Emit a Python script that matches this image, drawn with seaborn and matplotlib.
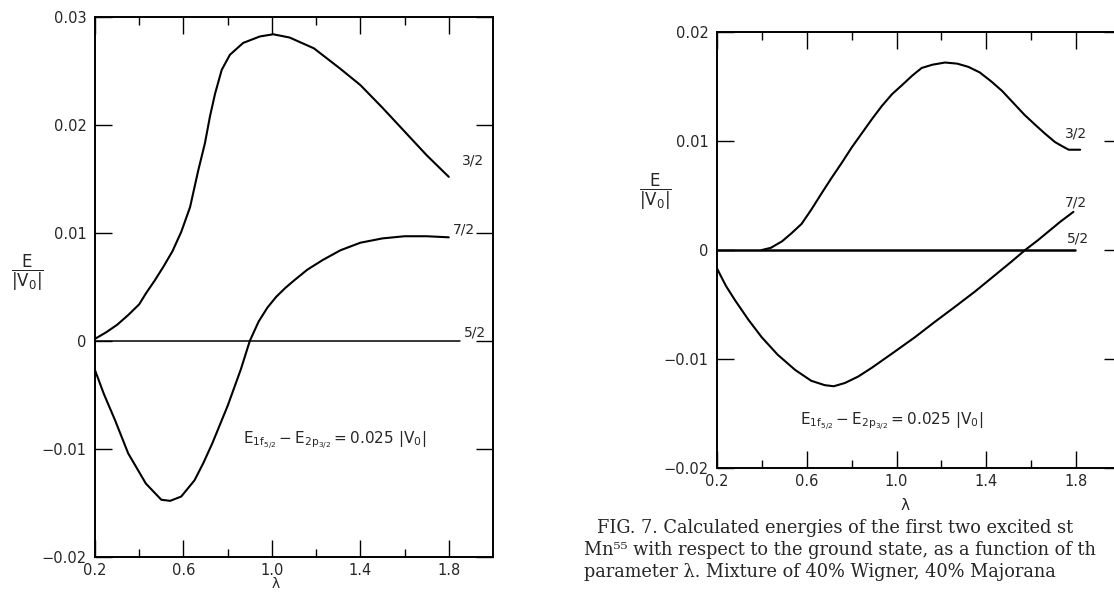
#%%
import numpy as np
import pandas as pd
import seaborn as sns
import matplotlib.pyplot as plt

sns.set_theme(style="ticks")
plt.rcParams["font.family"] = ["DejaVu Sans"]
plt.rcParams["mathtext.fontset"] = "dejavusans"

# %% values (lambda, E/|V0|)
# left panel
lam_l32 = [0.20, 0.25, 0.30, 0.35, 0.40, 0.43, 0.47, 0.51, 0.55, 0.59, 0.63, 0.667,
           0.697, 0.72, 0.743, 0.773, 0.81, 0.87, 0.946, 1.006, 1.08, 1.19, 1.31,
           1.40, 1.50, 1.60, 1.70, 1.80]
e_l32 = [0.0002, 0.0008, 0.0015, 0.0024, 0.0034, 0.0044, 0.0056, 0.0069, 0.0083,
         0.0101, 0.0124, 0.0158, 0.0183, 0.0208, 0.0229, 0.0251, 0.0265, 0.0276,
         0.0282, 0.0284, 0.0281, 0.0271, 0.0252, 0.0237, 0.0216, 0.0194, 0.0172,
         0.0152]
lam_l72 = [0.20, 0.24, 0.29, 0.35, 0.43, 0.50, 0.54, 0.59, 0.65, 0.69, 0.73, 0.80,
           0.86, 0.90, 0.94, 0.98, 1.02, 1.06, 1.10, 1.16, 1.23, 1.31, 1.40, 1.50,
           1.60, 1.70, 1.80]
e_l72 = [-0.0027, -0.0049, -0.0073, -0.0104, -0.0132, -0.0147, -0.0148, -0.0144,
         -0.0129, -0.0113, -0.0095, -0.0060, -0.0026, 0.0000, 0.0018, 0.0031,
         0.0041, 0.0049, 0.0056, 0.0066, 0.0075, 0.0084, 0.0091, 0.0095, 0.0097,
         0.0097, 0.0096]
lam_l52 = [0.20, 1.85]
e_l52 = [0.0, 0.0]

# right panel
lam_r32 = [0.40, 0.44, 0.49, 0.53, 0.577, 0.62, 0.666, 0.71, 0.756, 0.80, 0.845,
           0.89, 0.934, 0.98, 1.023, 1.07, 1.112, 1.16, 1.216, 1.27, 1.32, 1.37,
           1.42, 1.47, 1.52, 1.57, 1.617, 1.66, 1.706, 1.74, 1.767, 1.818]
e_r32 = [0.0000, 0.0002, 0.0008, 0.0015, 0.0024, 0.0037, 0.0052, 0.0066, 0.0080,
         0.0094, 0.0107, 0.0120, 0.0132, 0.0143, 0.0151, 0.0160, 0.0167, 0.0170,
         0.0172, 0.0171, 0.0168, 0.0163, 0.0155, 0.0146, 0.0135, 0.0124, 0.0115,
         0.0107, 0.0099, 0.0095, 0.0092, 0.0092]
lam_r72 = [0.20, 0.24, 0.28, 0.34, 0.399, 0.47, 0.548, 0.62, 0.68, 0.72, 0.77, 0.83,
           0.89, 0.98, 1.082, 1.17, 1.261, 1.35, 1.439, 1.51, 1.573, 1.63, 1.677,
           1.73, 1.788]
e_r72 = [-0.0017, -0.0033, -0.0046, -0.0064, -0.0080, -0.0096, -0.0110, -0.0120,
         -0.0124, -0.0125, -0.0122, -0.0116, -0.0108, -0.0095, -0.0080, -0.0066,
         -0.0052, -0.0038, -0.0023, -0.0011, 0.0000, 0.0009, 0.0017, 0.0026, 0.0035]
lam_r52 = [0.20, 1.795]
e_r52 = [0.0, 0.0]

xmajor = [0.2, 0.6, 1.0, 1.4, 1.8]
xminor = [0.4, 0.8, 1.2, 1.6]
xlabels = ["0.2", "0.6", "1.0", "1.4", "1.8"]
yticks_l = [-0.02, -0.01, 0.0, 0.01, 0.02, 0.03]
ylabels_l = ["\u22120.02", "\u22120.01", "0", "0.01", "0.02", "0.03"]
yticks_r = [-0.02, -0.01, 0.0, 0.01, 0.02]
ylabels_r = ["\u22120.02", "\u22120.01", "0", "0.01", "0.02"]

gap_text = r"$\mathrm{E_{1f_{5/2}} - E_{2p_{3/2}} = 0.025\ |V_0|}$"
ylab = r"$\dfrac{\mathrm{E}}{|\mathrm{V_0}|}$"

caption = [
    "FIG. 7. Calculated energies of the first two excited st",
    "Mn\u2075\u2075 with respect to the ground state, as a function of th",
    "parameter \u03bb. Mixture of 40% Wigner, 40% Majorana",
]

#%%
def style_axes(ax, yt, yl, ylim):
    ax.set_xlim(0.2, 2.0)
    ax.set_ylim(*ylim)
    ax.set_xticks(xmajor)
    ax.set_xticks(xminor, minor=True)
    ax.set_xticklabels(xlabels)
    ax.set_yticks(yt)
    ax.set_yticklabels(yl)
    ax.tick_params(which="both", direction="in", top=True, right=True,
                   color="black", width=1.0, labelsize=10.5)
    ax.tick_params(which="major", length=12.5, pad=6)
    ax.tick_params(axis="x", which="major", pad=4)
    ax.tick_params(which="minor", length=5.5)
    for s in ax.spines.values():
        s.set_linewidth(1.4)
        s.set_color("black")
    ax.set(xlabel="", ylabel="")


def draw(ax, lam, e, lw=1.5):
    sns.lineplot(x=lam, y=e, ax=ax, color="black", lw=lw, sort=False,
                 estimator=None)


fig = plt.figure(figsize=(11.14, 5.93), dpi=100)
axl = fig.add_axes([95 / 1114, 36 / 593, 398 / 1114, 540 / 593])
axr = fig.add_axes([717 / 1114, 125 / 593, 404 / 1114, 436 / 593])

draw(axl, lam_l32, e_l32)
draw(axl, lam_l72, e_l72)
draw(axl, lam_l52, e_l52, lw=1.1)
style_axes(axl, yticks_l, ylabels_l, (-0.02, 0.03))
axl.text(1.86, 0.0167, "3/2", fontsize=10, va="center")
axl.text(1.82, 0.0103, "7/2", fontsize=10, va="center")
axl.text(1.87, 0.0008, "5/2", fontsize=10, va="center")
axl.text(0.87, -0.0093, gap_text, fontsize=11, va="center")

draw(axr, lam_r32, e_r32)
draw(axr, lam_r72, e_r72)
draw(axr, lam_r52, e_r52, lw=1.8)
style_axes(axr, yticks_r, ylabels_r, (-0.02, 0.02))
axr.text(1.75, 0.0107, "3/2", fontsize=10, va="center")
axr.text(1.75, 0.0044, "7/2", fontsize=10, va="center")
axr.text(1.76, 0.0011, "5/2", fontsize=10, va="center")
axr.text(0.57, -0.0158, gap_text, fontsize=11, va="center")

# axis titles placed as in the print
fig.text(27 / 1114, 1 - 273 / 593, ylab, fontsize=12, ha="center", va="center")
fig.text(655 / 1114, 1 - 192 / 593, ylab, fontsize=12, ha="center", va="center")
fig.text(276 / 1114, 1 - 584 / 593, "\u03bb", fontsize=10, ha="center", va="center")
fig.text(905 / 1114, 1 - 505 / 593, "\u03bb", fontsize=11, ha="center", va="center")

# caption
cap_kw = dict(fontsize=12.8, family="DejaVu Serif", va="center")
fig.text(597 / 1114, 1 - 528 / 593, caption[0], **cap_kw)
fig.text(584 / 1114, 1 - 550 / 593, caption[1], **cap_kw)
fig.text(584 / 1114, 1 - 572 / 593, caption[2], **cap_kw)

fig.savefig("out.png", dpi=100)
